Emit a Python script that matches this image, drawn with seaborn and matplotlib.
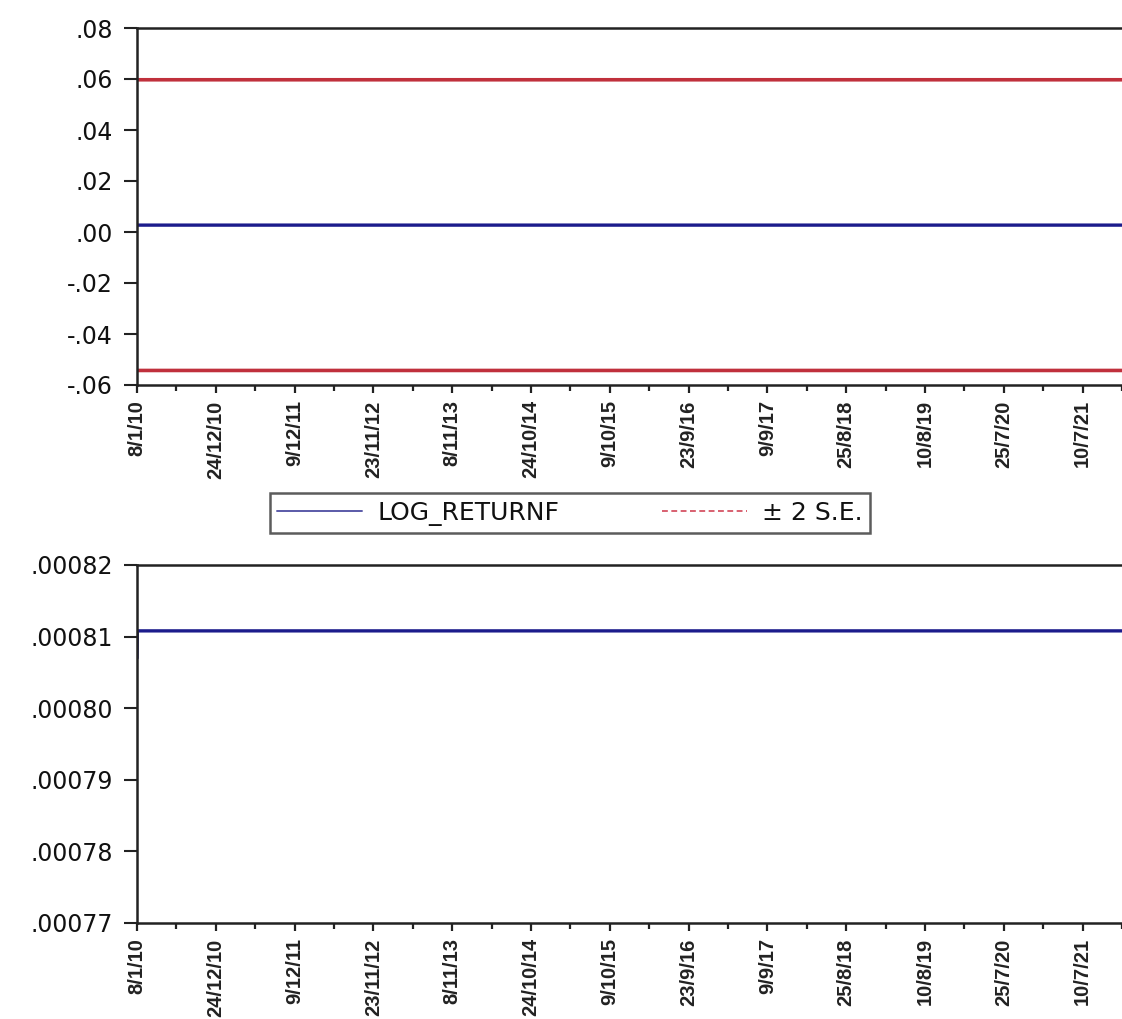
import numpy as np
import pandas as pd
import matplotlib
matplotlib.use("Agg")
import matplotlib.pyplot as plt
from matplotlib import font_manager
from matplotlib.lines import Line2D
import seaborn as sns

# ---------------- data ----------------
n_obs = 3125
forecast_mean = 0.0027          # LOG_RETURNF forecast
upper_2se = 0.0597              # + 2 S.E.
lower_2se = -0.0543             # - 2 S.E.
variance_first = 0.000807       # first variance forecast
variance_level = 0.0008108      # variance forecast afterwards

date_tick_pos = [0, 250, 500, 750, 1000, 1250, 1500, 1750, 2000, 2250, 2500, 2750, 3000]
date_tick_labels = ["8/1/10", "24/12/10", "9/12/11", "23/11/12", "8/11/13", "24/10/14",
                    "9/10/15", "23/9/16", "9/9/17", "25/8/18", "10/8/19", "25/7/20", "10/7/21"]
minor_tick_pos = [125, 375, 625, 875, 1125, 1375, 1625, 1875, 2125, 2375, 2625, 2875, 3125]

top_yticks = [-0.06, -0.04, -0.02, 0.00, 0.02, 0.04, 0.06, 0.08]
top_ylabels = ["-.06", "-.04", "-.02", ".00", ".02", ".04", ".06", ".08"]
bot_yticks = [0.00077, 0.00078, 0.00079, 0.00080, 0.00081, 0.00082]
bot_ylabels = [".00077", ".00078", ".00079", ".00080", ".00081", ".00082"]

obs = np.arange(n_obs)
mean_series = np.full(n_obs, forecast_mean)
upper_series = np.full(n_obs, upper_2se)
lower_series = np.full(n_obs, lower_2se)
var_series = np.full(n_obs, variance_level)
var_series[0] = variance_first

df_top = pd.DataFrame({"obs": obs, "mean": mean_series, "upper": upper_series, "lower": lower_series})
df_bot = pd.DataFrame({"obs": obs, "var": var_series})

# ---------------- style ----------------
sns.set_theme(style="white")
names = {f.name for f in font_manager.fontManager.ttflist}
narrow = "Liberation Sans Narrow" if "Liberation Sans Narrow" in names else "Liberation Sans"
plt.rcParams["font.family"] = ["DejaVu Sans"]

BLUE = "#1c1c8c"
RED = "#c0303c"
SPINE = "#222222"

fig = plt.figure(figsize=(11.22, 10.19), dpi=100)
ax1 = fig.add_axes([137 / 1122, 1 - 385 / 1019, 1 - 137 / 1122, (385 - 28) / 1019])
ax2 = fig.add_axes([137 / 1122, 1 - 923 / 1019, 1 - 137 / 1122, (923 - 565) / 1019])

sns.lineplot(data=df_top, x="obs", y="upper", ax=ax1, color=RED, linewidth=2.6)
sns.lineplot(data=df_top, x="obs", y="lower", ax=ax1, color=RED, linewidth=2.6)
sns.lineplot(data=df_top, x="obs", y="mean", ax=ax1, color=BLUE, linewidth=2.4)
sns.lineplot(data=df_bot, x="obs", y="var", ax=ax2, color=BLUE, linewidth=2.4)

xmax = (1122 - 137) / 79.1 * 250

for ax, yt, yl, ylim in [(ax1, top_yticks, top_ylabels, (-0.06, 0.08)),
                         (ax2, bot_yticks, bot_ylabels, (0.00077, 0.00082))]:
    ax.set_xlim(0, xmax)
    ax.set_ylim(*ylim)
    ax.set_yticks(yt)
    ax.set_yticklabels(yl, fontsize=17, family=["DejaVu Sans"], color="#111111")
    ax.set_xticks(date_tick_pos)
    ax.set_xticklabels(date_tick_labels, rotation=90, fontsize=14.5, fontweight="bold",
                       family=[narrow], color="#222222", va="top", ha="center")
    ax.set_xticks(minor_tick_pos, minor=True)
    ax.set_xlabel("")
    ax.set_ylabel("")
    ax.tick_params(axis="y", direction="out", length=9.5, width=1.5, color=SPINE, left=True, pad=8)
    ax.tick_params(axis="x", which="major", direction="out", length=6, width=1.6, color=SPINE, bottom=True, pad=5)
    ax.tick_params(axis="x", which="minor", direction="out", length=4, width=1.6, color=SPINE, bottom=True)
    for side in ["left", "bottom", "top"]:
        ax.spines[side].set_visible(True)
        ax.spines[side].set_color(SPINE)
        ax.spines[side].set_linewidth(1.8)
    ax.spines["right"].set_visible(False)
    ax.grid(False)

handles = [Line2D([0], [0], color="#5a5aa8", linewidth=1.4),
           Line2D([0], [0], color="#d86070", linewidth=1.4, linestyle=(0, (3, 1.8)))]
leg = fig.legend(handles, ["LOG_RETURNF", "± 2 S.E."], loc="center",
                 bbox_to_anchor=(570 / 1122, 1 - 513 / 1019), ncol=2, frameon=True,
                 fancybox=False, edgecolor="#333333", fontsize=18, handlelength=3.4,
                 columnspacing=4.1, handletextpad=0.6, borderpad=0.3)
leg.get_frame().set_linewidth(1.8)
for t in leg.get_texts():
    t.set_color("#111111")

fig.savefig("out.png", dpi=100)
